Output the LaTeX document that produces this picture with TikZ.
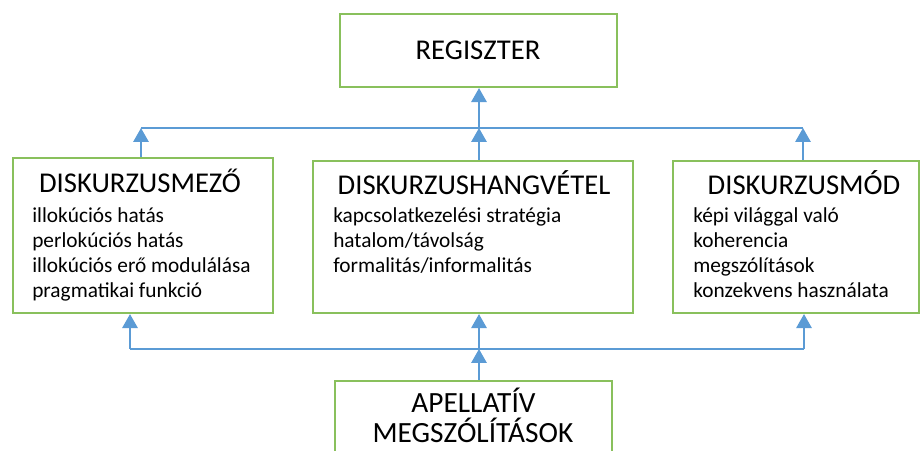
\documentclass[tikz,border=0pt]{standalone}
\usepackage{fontspec}
\setmainfont{Carlito}
\usepackage{tikz}
\usetikzlibrary{arrows.meta}
\definecolor{boxgreen}{RGB}{137,192,92}
\definecolor{linkblue}{RGB}{91,155,213}

\begin{document}
\begin{tikzpicture}[x=0.75pt,y=0.75pt]
\tikzstyle{every node}+=[inner sep=0pt]
\tikzstyle{frame}=[draw=boxgreen,line width=1.6pt,rectangle]
\tikzstyle{link}=[draw=linkblue,line width=1.5pt]
\tikzstyle{tip}=[-{Triangle[length=10.5pt,width=11.5pt]}]
\tikzstyle{head}=[font=\fontsize{21.5}{26}\selectfont,anchor=base]
\tikzstyle{item}=[font=\fontsize{16}{19}\selectfont,anchor=base west]
\clip (0,0) rectangle (921,450);
% boxes
\node [frame,minimum width=207.75pt,minimum height=54.75pt] (reg) at (478.5,399.5) {};
\node [frame,minimum width=195pt,minimum height=116.25pt] (mezo) at (143,214.5) {};
\node [frame,minimum width=240pt,minimum height=114pt] (hang) at (473,213) {};
\node [frame,minimum width=184.5pt,minimum height=114pt] (mod) at (796,213) {};
\node [frame,minimum width=207.75pt,minimum height=74.25pt] (apel) at (473.5,19.5) {};
% texts
\node [head] (regt) at (478,390) {REGISZTER};
\node [head] (mezot) at (140,257) {DISKURZUSMEZŐ};
\node [item] (mezo1) at (32,227) {illokúciós hatás};
\node [item] (mezo2) at (32,202.3) {perlokúciós hatás};
\node [item] (mezo3) at (32,177.6) {illokúciós erő modulálása};
\node [item] (mezo4) at (32,152.9) {pragmatikai funkció};
\node [head] (hangt) at (474,255) {DISKURZUSHANGVÉTEL};
\node [item] (hang1) at (333,227) {kapcsolatkezelési stratégia};
\node [item] (hang2) at (333,202.3) {hatalom/távolság};
\node [item] (hang3) at (333,177.6) {formalitás/informalitás};
\node [head] (modt) at (804,255) {DISKURZUSMÓD};
\node [item] (mod1) at (693,227) {képi világgal való};
\node [item] (mod2) at (693,202.3) {koherencia};
\node [item] (mod3) at (693,177.6) {megszólítások};
\node [item] (mod4) at (693,152.9) {konzekvens használata};
\node [head,font=\fontsize{22}{26}\selectfont] (apelt) at (473.5,38) {APELLATÍV};
\node [head,font=\fontsize{22}{26}\selectfont] (apelu) at (473,8) {MEGSZÓLÍTÁSOK};
% connectors
\coordinate (up1) at (141,322);
\coordinate (up2) at (479,322);
\coordinate (up3) at (803,322);
\coordinate (dn1) at (130,101);
\coordinate (dn2) at (479,101);
\coordinate (dn3) at (804,101);
\draw [link] (up1) -- (up3);
\draw [link,tip] (mezo.north -| up1) -- (up1);
\draw [link,tip] (hang.north -| up2) -- (up2);
\draw [link,tip] (mod.north -| up3) -- (up3);
\draw [link,tip] (up2) -- (reg.south -| up2);
\draw [link] (dn1) -- (dn3);
\draw [link,tip] (apel.north -| dn2) -- (dn2);
\draw [link,tip] (dn1) -- (mezo.south -| dn1);
\draw [link,tip] (dn2) -- (hang.south -| dn2);
\draw [link,tip] (dn3) -- (mod.south -| dn3);
\end{tikzpicture}
\end{document}
